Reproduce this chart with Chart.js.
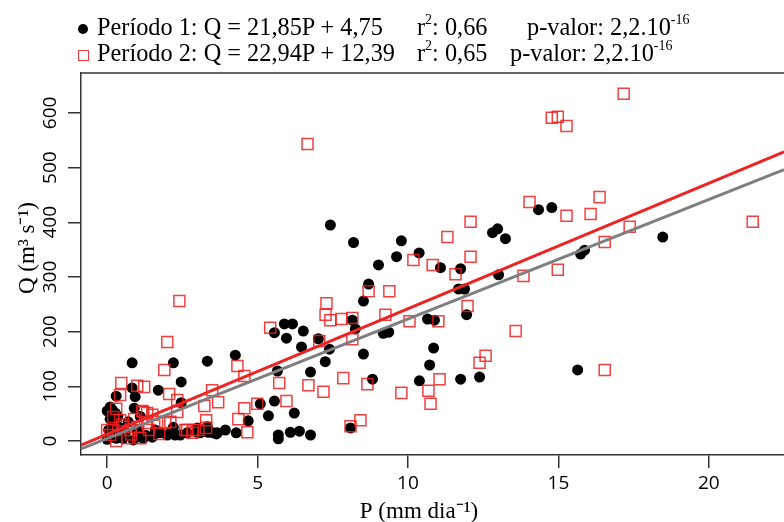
<!DOCTYPE html>
<html>
<head>
<meta charset="utf-8">
<script src="https://cdn.jsdelivr.net/npm/chart.js@4.4.1/dist/chart.umd.min.js"></script>
<style>
  body { margin: 0; background: #fff; }
  #wrap { position: relative; width: 784px; height: 522px; overflow: hidden; }
  .leg { position: absolute; font-family: "Liberation Serif", "Times New Roman", serif; font-size: 26px; line-height: 26px; color: #000; white-space: nowrap; transform: scaleX(0.935); transform-origin: left center; }
  .leg sup { font-size: 15px; line-height: 0; vertical-align: 0; position: relative; top: -11px; }
  .mk-circ { position: absolute; width: 10px; height: 10px; border-radius: 50%; background: #000; }
  .mk-sq { position: absolute; width: 11px; height: 11px; box-sizing: border-box; border: 1.5px solid rgba(235,35,40,0.9); }
</style>
</head>
<body>
<div id="wrap">
  <canvas id="scatterChart" width="784" height="522"></canvas>

  <!-- legenda com sobrescritos -->
  <span class="mk-circ" style="left:78px; top:24px;"></span>
  <span class="leg" style="left:97px; top:14px;">Período 1: Q = 21,85P + 4,75</span>
  <span class="leg" style="left:417px; top:14px;">r<sup>2</sup>: 0,66</span>
  <span class="leg" style="left:527px; top:14px;">p-valor: 2,2.10<sup>-16</sup></span>

  <span class="mk-sq" style="left:78px; top:50px;"></span>
  <span class="leg" style="left:97px; top:40px;">Período 2: Q = 22,94P + 12,39</span>
  <span class="leg" style="left:417px; top:40px;">r<sup>2</sup>: 0,65</span>
  <span class="leg" style="left:510px; top:40px;">p-valor: 2,2.10<sup>-16</sup></span>
</div>

<script>
// Período 1 (círculos pretos): P em mm/dia, Q em m3/s
const periodo1P = [
  7.42, 8.19, 9.78, 9.62, 9.02, 10.37, 8.69, 8.52, 8.15, 8.25, 9.18, 9.36,
  14.34, 14.78, 12.81, 12.98, 13.24, 11.08, 11.75, 11.68, 11.88, 13.01, 15.74, 15.87, 18.47,
  10.65, 10.88, 11.95, 10.85, 10.72, 10.38, 11.75, 12.38, 15.64,
  5.56, 5.89, 6.16, 6.52, 5.96, 6.46, 7.02, 7.39, 7.25, 6.76, 5.66, 8.52, 8.82,
  3.33, 4.26, 0.83, 2.2, 2.46, 1.7, 0.3, 0.83, 0.93,
  5.09, 5.56, 5.36, 6.22, 4.69, 3.93, 3.63, 4.29, 3.36, 5.69, 5.69, 6.09, 6.39, 6.76, 8.09, 3.09, 3.0, 3.33, 3.66,
  2.46, 2.0, 2.26,
  0.0, 0.17, 0.27, 0.1, 0.2, 0.05, 0.15, 0.3, 0.53, 0.87, 1.2, 1.5, 1.76, 2.1, 2.43, 2.66, 3.0, 3.19, 3.53,
  0.4, 0.6, 0.7, 1.0, 1.3, 0.1, 0.35, 0.0, 0.45, 1.0, 1.6, 2.2, 0.9, 1.1
];
const periodo1Q = [
  395, 363, 366, 337, 322, 344, 287, 256, 221, 205, 197, 199,
  423, 427, 381, 388, 370, 317, 315, 278, 278, 304, 342, 349, 373,
  223, 221, 231, 170, 139, 110, 113, 117, 130,
  198, 214, 214, 201, 188, 172, 187, 168, 145, 126, 128, 159, 113,
  146, 157, 143, 143, 108, 93, 82, 97, 81,
  68, 73, 46, 51, 37, 20, 13, 15, 16, 11, 4, 16, 18, 11, 24, 15, 24, 26, 15,
  70, 11, 11,
  55, 57, 51, 40, 30, 20, 10, 5, 5, 2, 5, 7, 15, 15, 11, 15, 16, 20, 15,
  25, 15, 35, 20, 10, 62, 45, 3, 12, 8, 20, 25, 60, 45
];

// Período 2 (quadrados vermelhos)
const periodo2P = [
  17.17, 14.78, 14.98, 15.27, 14.04, 16.37, 15.27, 16.07, 21.46, 17.37, 16.54, 12.08, 11.31, 12.08,
  10.18, 10.82, 11.58, 13.84, 14.98, 11.98, 10.05, 11.01, 13.58, 12.58, 12.38, 16.54, 11.05, 10.68, 10.75, 9.78,
  6.66, 2.4, 8.69, 9.38, 7.29, 7.26, 7.42, 7.79, 8.15, 9.25, 5.42, 2.0, 7.05, 8.15,
  4.33, 4.56, 5.72, 6.69, 7.19, 7.85, 8.65,
  3.49, 3.69, 3.23, 4.56, 4.99, 5.96, 4.36, 4.66, 3.29, 3.29, 8.09, 8.42,
  1.9, 0.47, 0.43, 1.0, 1.23, 2.06, 2.33, 2.33, 0.3, 1.2, 1.33, 2.1, 2.6, 2.83, 3.03, 1.73,
  0.2, 0.43, 0.0, 0.2, 0.53, 0.77, 1.0, 1.33, 1.66, 1.93, 0.67, 1.1, 2.66, 2.86, 0.1, 1.5, 1.16,
  0.5, 0.8, 1.4, 0.3, 0.9
];
const periodo2Q = [
  635, 591, 593, 576, 437, 446, 412, 415, 401, 392, 364, 401, 373, 337,
  331, 322, 305, 302, 313, 247, 219, 219, 201, 156, 143, 130, 113, 92, 68, 88,
  543, 256, 274, 274, 252, 231, 221, 223, 225, 231, 207, 181, 183, 186,
  137, 119, 106, 102, 90, 115, 104,
  93, 71, 64, 60, 68, 73, 40, 16, 38, 24, 27, 38,
  130, 106, 84, 101, 99, 86, 75, 53, 59, 53, 51, 35, 20, 15, 20, 13,
  44, 38, 20, 20, 26, 20, 26, 33, 35, 33, 5, 5, 20, 20, 11, 48, 55,
  30, 12, 20, 0, 40
];

// Retas de regressão (coeficientes da legenda)
const coefPeriodo1 = [21.85, 4.75];
const coefPeriodo2 = [22.94, 12.39];

// Eixos
const xTicks = [0, 5, 10, 15, 20];
const yTicks = [0, 100, 200, 300, 400, 500, 600];
const xLimits = [-0.87, 22.5];
const yLimits = [-25.6, 673];
const xTitle = 'P (mm dia⁻¹)';
const yTitle = 'Q (m³ s⁻¹)';

const toPoints = (xs, ys) => xs.map((x, i) => ({ x: x, y: ys[i] }));
const regLine = (c) => xLimits.map(x => ({ x: x, y: c[0] * x + c[1] }));

const tickFont = { family: '"Open Sans", "Liberation Sans", sans-serif', size: 19 };
const serifFont = '"Liberation Serif", "Times New Roman", serif';

// Borda superior, rótulos verticais do eixo Y e títulos dos eixos
const extras = {
  id: 'extras',
  afterDraw(chart) {
    const { ctx, chartArea } = chart;
    const yScale = chart.scales.y;
    ctx.save();
    ctx.strokeStyle = '#333';
    ctx.lineWidth = 1.5;
    ctx.beginPath();
    ctx.moveTo(chartArea.left, chartArea.top);
    ctx.lineTo(chartArea.right, chartArea.top);
    ctx.stroke();

    // rótulos do eixo Y (girados, como no R)
    ctx.fillStyle = '#000';
    ctx.font = tickFont.size + 'px ' + tickFont.family;
    ctx.textAlign = 'center';
    ctx.textBaseline = 'middle';
    yTicks.forEach(v => {
      ctx.save();
      ctx.translate(51, yScale.getPixelForValue(v));
      ctx.rotate(-Math.PI / 2);
      ctx.fillText(String(v), 0, 0);
      ctx.restore();
    });

    // títulos
    ctx.font = '23px ' + serifFont;
    ctx.textBaseline = 'alphabetic';
    ctx.fillText(xTitle, 419, 518);
    ctx.save();
    ctx.translate(34, 248);
    ctx.rotate(-Math.PI / 2);
    ctx.fillText(yTitle, 0, 0);
    ctx.restore();
    ctx.restore();
  }
};

new Chart(document.getElementById('scatterChart'), {
  type: 'scatter',
  data: {
    datasets: [
      {
        label: 'Reta período 2',
        type: 'line',
        data: regLine(coefPeriodo2),
        borderColor: '#ee2424',
        borderWidth: 3,
        pointRadius: 0,
        fill: false,
        order: 0
      },
      {
        label: 'Reta período 1',
        type: 'line',
        data: regLine(coefPeriodo1),
        borderColor: '#7f7f7f',
        borderWidth: 3,
        pointRadius: 0,
        fill: false,
        order: 1
      },
      {
        label: 'Período 2',
        data: toPoints(periodo2P, periodo2Q),
        pointStyle: 'rect',
        pointRadius: 7.8,
        backgroundColor: 'rgba(0,0,0,0)',
        borderColor: 'rgba(240,30,30,0.85)',
        borderWidth: 1.5,
        order: 2
      },
      {
        label: 'Período 1',
        data: toPoints(periodo1P, periodo1Q),
        pointStyle: 'circle',
        pointRadius: 5.5,
        backgroundColor: '#000',
        borderWidth: 0,
        order: 3
      }
    ]
  },
  options: {
    responsive: false,
    animation: false,
    layout: { autoPadding: false, padding: { left: 0, right: 0, top: 73, bottom: 0 } },
    plugins: {
      legend: { display: false },
      tooltip: { enabled: false }
    },
    scales: {
      x: {
        type: 'linear',
        min: xLimits[0],
        max: xLimits[1],
        afterBuildTicks: (scale) => { scale.ticks = xTicks.map(v => ({ value: v })); },
        afterFit: (scale) => { scale.height = 67; scale.paddingLeft = 0; scale.paddingRight = 0; },
        grid: { display: true, drawOnChartArea: false, drawTicks: true, tickLength: 13, color: '#333', lineWidth: 1.5 },
        border: { display: true, color: '#333', width: 1.5 },
        ticks: { font: tickFont, color: '#000', padding: 4, maxRotation: 0 },
        title: { display: false }
      },
      y: {
        type: 'linear',
        min: yLimits[0],
        max: yLimits[1],
        afterBuildTicks: (scale) => { scale.ticks = yTicks.map(v => ({ value: v })); },
        afterFit: (scale) => { scale.width = 81; scale.paddingTop = 0; scale.paddingBottom = 0; },
        grid: { display: true, drawOnChartArea: false, drawTicks: true, tickLength: 13, color: '#333', lineWidth: 1.5 },
        border: { display: true, color: '#333', width: 1.5 },
        ticks: { display: false },
        title: { display: false }
      }
    }
  },
  plugins: [extras]
});
</script>
</body>
</html>
